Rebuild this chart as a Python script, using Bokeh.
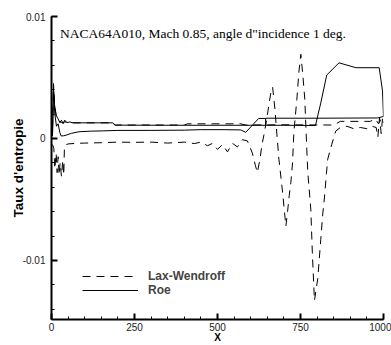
from bokeh.plotting import figure
from bokeh.models import FixedTicker, Label, Legend, LegendItem, Range1d
from bokeh.embed import file_html
from bokeh.resources import INLINE
import numpy as np

# ---- data ----
roe_upper_x = [3, 6, 9, 14, 20, 25, 30, 35, 40, 46, 55, 65, 185, 192, 400, 600, 700, 795,
               811, 829, 866, 917, 987, 997, 1000, 982, 800, 645]
roe_upper_y = [0.0003, 0.0042, 0.0028, 0.0019, 0.0016, 0.0013, 0.0015, 0.0012, 0.0015, 0.0013,
               0.00135, 0.00128, 0.00128, 0.00109, 0.00108, 0.00108, 0.00108, 0.00106,
               0.0029, 0.0052, 0.0062, 0.0058, 0.0058, 0.0039, 0.0018, 0.00168, 0.00166, 0.00166]

roe_lower_x = [3, 6, 10, 15, 20, 25, 29, 37, 44, 60, 83, 120, 154, 200, 300, 400, 450, 520,
               570, 585, 624, 645, 645]
roe_lower_y = [0.0002, 0.0040, 0.0020, 0.0010, 0.0012, 0.0005, 0.0002, 0.00022, 0.00027,
               0.00042, 0.00055, 0.0006, 0.00062, 0.00066, 0.00066, 0.00068, 0.00072, 0.00072,
               0.00070, 0.0005, 0.00164, 0.00164, 0.00109]

lw_lower_x = [3, 7, 10, 14, 17, 20, 23, 26, 30, 34, 37, 39, 45, 50, 75, 100, 150, 200, 250,
              300, 350, 400, 430, 450, 470, 485, 500, 515, 530, 545, 560, 575, 590, 605, 614,
              620, 628, 634, 640, 649, 655, 661, 666, 673, 679, 685, 696, 701, 706, 711, 716,
              721, 726, 730, 739, 745, 751, 757, 763, 766, 769, 772, 781, 786, 792, 802, 811,
              817, 823, 828, 832, 844, 856, 870, 890, 910, 930, 950, 965, 978, 983, 988, 993, 998]
lw_lower_y = [-0.0005, -0.0008, -0.0025, -0.0012, -0.0028, -0.0015, -0.0030, -0.0020, -0.0031,
              -0.0018, -0.0030, -0.0006, -0.0005, -0.00045, -0.0004, -0.00038, -0.00035, -0.0003,
              -0.00032, -0.0003, -0.00038, -0.0003, -0.00042, -0.0003, -0.0006, -0.0004, -0.0009,
              -0.0005, -0.0011, -0.0004, -0.0007, -0.0001, -0.0002, -0.0012, -0.0022, -0.0028,
              -0.0017, -0.0005, 0.0003, 0.0017, 0.0028, 0.0038, 0.0042, 0.0024, 0.0003, -0.0017,
              -0.0044, -0.0058, -0.0072, -0.0060, -0.0047, -0.0036, -0.0020, 0.0005, 0.0032,
              0.0054, 0.0069, 0.0052, 0.0032, 0.0011, -0.0009, -0.0028, -0.0058, -0.0096, -0.0133,
              -0.0115, -0.0083, -0.0062, -0.0046, -0.0029, -0.0017, -0.0005, 0.0006, 0.0009,
              0.0010, 0.0008, 0.0009, 0.0008, 0.0010, 0.0009, 0.0001, 0.0017, 0.0004, 0.0019]

lw_upper_x = [3, 6, 10, 15, 22, 30, 40, 55, 70, 184, 190, 400, 410, 570, 585, 700, 850, 870,
              960, 975, 985, 995, 1000]
lw_upper_y = [0.0008, 0.0045, 0.0026, 0.0017, 0.0014, 0.0013, 0.00135, 0.0013, 0.00128,
              0.00128, 0.0011, 0.0011, 0.0012, 0.0012, 0.0011, 0.00112, 0.0011, 0.0014, 0.0014,
              0.0016, 0.0012, 0.0017, 0.0013]

x_ticks = [0, 250, 500, 750, 1000]
y_ticks = [-0.01, 0, 0.01]
y_tick_labels = {-0.01: "-0.01", 0: "0", 0.01: "0.01"}
title_text = 'NACA64A010, Mach 0.85, angle d"incidence 1 deg.'
series_names = ["Lax-Wendroff", "Roe"]

SANS = "Liberation Sans"

p = figure(width=391, height=345, output_backend="svg", toolbar_location=None, title=None,
           x_range=Range1d(0, 1000), y_range=Range1d(-0.014847, 0.01),
           min_border_left=51, min_border_right=8, min_border_top=16, min_border_bottom=25)
p.outline_line_color = None
p.xgrid.visible = False
p.ygrid.visible = False
p.background_fill_color = "white"

dash = "8 6"
r_lw_lo = p.line(lw_lower_x, lw_lower_y, line_color="black", line_width=1, line_dash=dash)
r_lw_up = p.line(lw_upper_x, lw_upper_y, line_color="black", line_width=1, line_dash=dash)
r_roe_up = p.line(roe_upper_x, roe_upper_y, line_color="black", line_width=1)
r_roe_lo = p.line(roe_lower_x, roe_lower_y, line_color="black", line_width=1)

# axes
p.xaxis.ticker = FixedTicker(ticks=x_ticks, minor_ticks=list(np.arange(0, 1001, 50)))
p.yaxis.ticker = FixedTicker(ticks=y_ticks,
                             minor_ticks=[round(v, 4) for v in np.arange(-0.014, 0.0101, 0.002)])
p.yaxis.major_label_overrides = y_tick_labels
for ax in (p.xaxis[0], p.yaxis[0]):
    ax.axis_line_width = 2
    ax.axis_line_color = "black"
    ax.major_tick_in = 6
    ax.major_tick_out = 0
    ax.minor_tick_in = 3
    ax.minor_tick_out = 0
    ax.major_tick_line_width = 2
    ax.minor_tick_line_width = 1
    ax.major_label_text_font = SANS
    ax.major_label_text_font_size = "10px"
    ax.major_label_text_color = "#222222"
    ax.axis_label_text_font = SANS
    ax.axis_label_text_font_style = "bold"
    ax.axis_label_text_color = "black"
p.xaxis.major_label_standoff = 3
p.yaxis.major_label_standoff = 6

p.yaxis.axis_label = "Taux d'entropie"
p.yaxis.axis_label_text_font_size = "13.5px"
p.yaxis.axis_label_standoff = -6

p.xaxis.axis_label = "X"
p.xaxis.axis_label_text_font_size = "10px"
p.xaxis.axis_label_standoff = -2

# title inside the plot
p.add_layout(Label(x=25.6, y=0.0086, text=title_text, text_font="Liberation Serif",
                   text_font_size="13.5px", text_baseline="alphabetic", text_align="left",
                   text_color="black"))

legend = Legend(items=[LegendItem(label=series_names[0], renderers=[r_lw_lo]),
                       LegendItem(label=series_names[1], renderers=[r_roe_up])],
                location=(31, 22))
legend.padding = 0
legend.margin = 0
legend.spacing = 0
legend.glyph_width = 56
legend.glyph_height = 12
legend.label_height = 12
legend.label_standoff = 10
legend.label_text_font = SANS
legend.label_text_font_size = "12px"
legend.label_text_font_style = "bold"
legend.border_line_color = None
legend.background_fill_alpha = 0
p.add_layout(legend)

open("out.html", "w").write(file_html(p, INLINE))
